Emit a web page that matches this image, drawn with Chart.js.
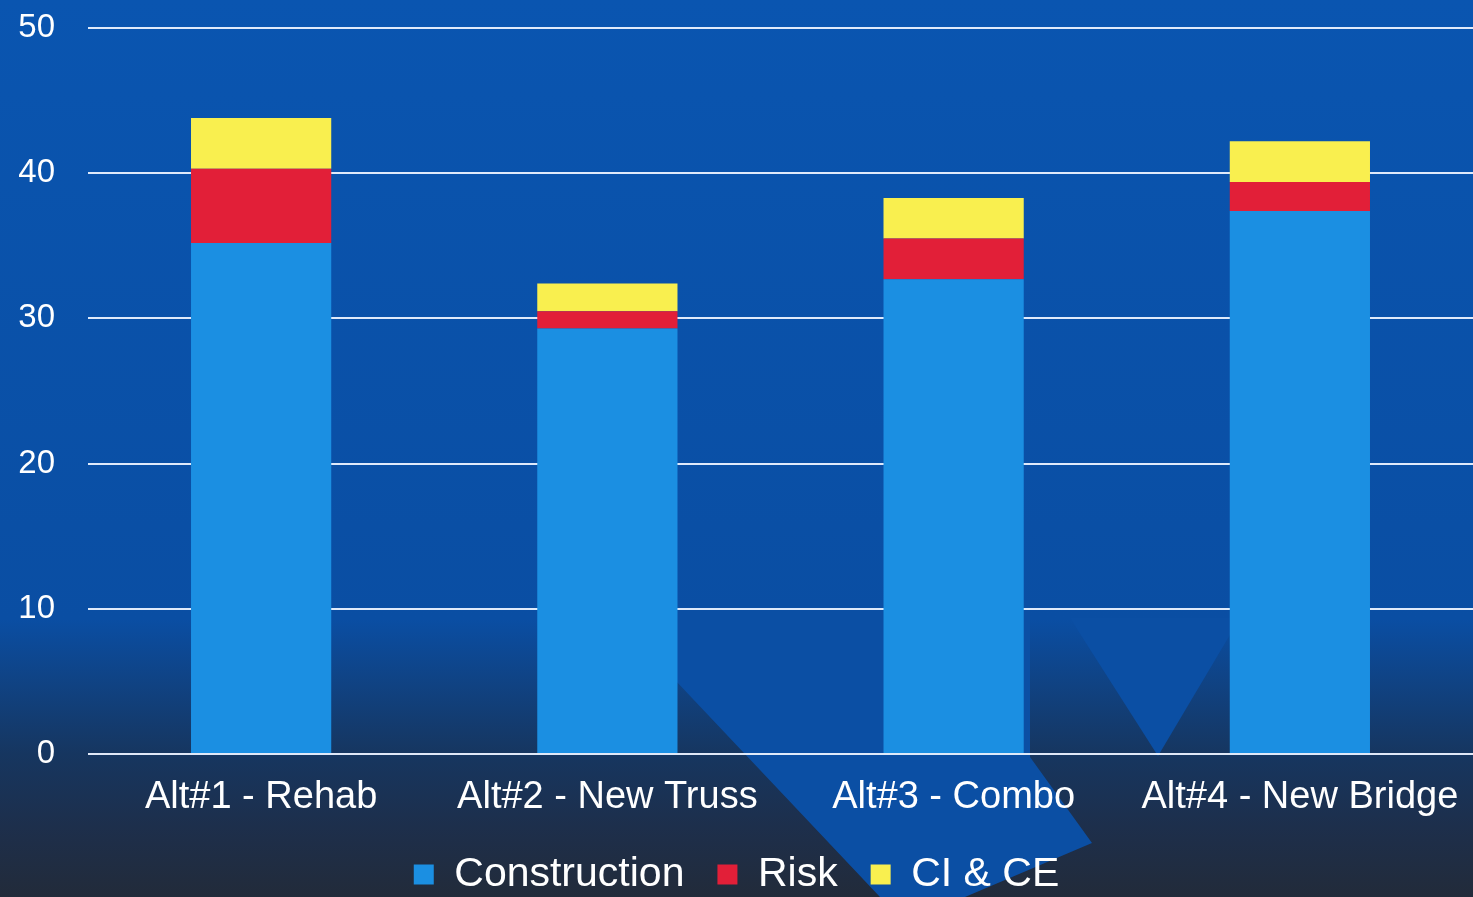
<!DOCTYPE html>
<html>
<head>
<meta charset="utf-8">
<script src="https://cdn.jsdelivr.net/npm/chart.js@4"></script>
<style>
  html, body { margin: 0; padding: 0; background: #0a4a9c; }
  #wrap { width: 1473px; height: 897px; position: relative; }
</style>
</head>
<body>
<div id="wrap"><canvas id="chart-costs"></canvas></div>
<script>
const categories = ["Alt#1 - Rehab", "Alt#2 - New Truss", "Alt#3 - Combo", "Alt#4 - New Bridge"];
const construction = [35.2, 29.3, 32.7, 37.4];
const risk = [5.1, 1.2, 2.8, 2.0];
const ciCe = [3.5, 1.9, 2.8, 2.8];
const yTicks = [0, 10, 20, 30, 40, 50];

const seriesColors = {
  construction: "#1b8fe2",
  risk: "#e21f38",
  ciCe: "#f9ef4f",
};

const fontFamily = "'Liberation Sans', Arial, sans-serif";

// slide background: blue fading into dark slate, with the faint chevron shapes
const backdrop = {
  id: "backdrop",
  beforeDraw(chart) {
    const { ctx, width, height } = chart;
    ctx.save();
    const grad = ctx.createLinearGradient(0, 0, 0, height);
    grad.addColorStop(0, "#0a55b0");
    grad.addColorStop(0.69, "#0a4ea3");
    grad.addColorStop(0.84, "#163660");
    grad.addColorStop(0.92, "#1d2f4c");
    grad.addColorStop(1, "#222b3a");
    ctx.fillStyle = grad;
    ctx.fillRect(0, 0, width, height);

    ctx.fillStyle = "#0b4fa4";
    ctx.beginPath();
    ctx.moveTo(600, 600);
    ctx.lineTo(1030, 600);
    ctx.lineTo(1030, 757);
    ctx.lineTo(1092, 843);
    ctx.lineTo(965, 897);
    ctx.lineTo(880, 897);
    ctx.lineTo(675, 680);
    ctx.closePath();
    ctx.fill();

    ctx.beginPath();
    ctx.moveTo(1070, 618);
    ctx.lineTo(1240, 618);
    ctx.lineTo(1158, 756);
    ctx.closePath();
    ctx.fill();
    ctx.restore();
  },
};

const ctx = document.getElementById("chart-costs");
const chart = new Chart(ctx, {
  type: "bar",
  data: {
    labels: categories,
    datasets: [
      { label: "Construction", data: construction, backgroundColor: seriesColors.construction },
      { label: "Risk", data: risk, backgroundColor: seriesColors.risk },
      { label: "CI & CE", data: ciCe, backgroundColor: seriesColors.ciCe },
    ],
  },
  options: {
    responsive: true,
    maintainAspectRatio: false,
    animation: false,
    categoryPercentage: 1,
    barPercentage: 0.405,
    layout: { padding: { top: 0, left: 0, right: 0, bottom: -8 } },
    plugins: {
      tooltip: { enabled: false },
      legend: {
        position: "bottom",
        labels: {
          color: "#ffffff",
          boxWidth: 20,
          boxHeight: 20,
          padding: 33,
          font: { family: fontFamily, size: 41 },
        },
      },
    },
    scales: {
      x: {
        stacked: true,
        grid: { display: false, drawTicks: false },
        border: { display: false },
        afterFit: (axis) => {
          axis.height = 67;
          axis.paddingLeft = 0;
          axis.paddingRight = 0;
        },
        ticks: {
          color: "#ffffff",
          padding: 21,
          maxRotation: 0,
          autoSkip: false,
          font: { family: fontFamily, size: 38 },
        },
      },
      y: {
        stacked: true,
        min: 0,
        max: 50,
        afterBuildTicks: (axis) => {
          axis.ticks = yTicks.map((value) => ({ value }));
        },
        afterFit: (axis) => {
          axis.width = 88;
          axis.paddingTop = 28;
          axis.paddingBottom = 0;
        },
        grid: { color: "rgba(235, 242, 255, 0.95)", lineWidth: 2, drawTicks: false },
        border: { display: false },
        ticks: {
          color: "#ffffff",
          padding: 33,
          font: { family: fontFamily, size: 33 },
        },
      },
    },
  },
  plugins: [backdrop],
});
</script>
</body>
</html>
